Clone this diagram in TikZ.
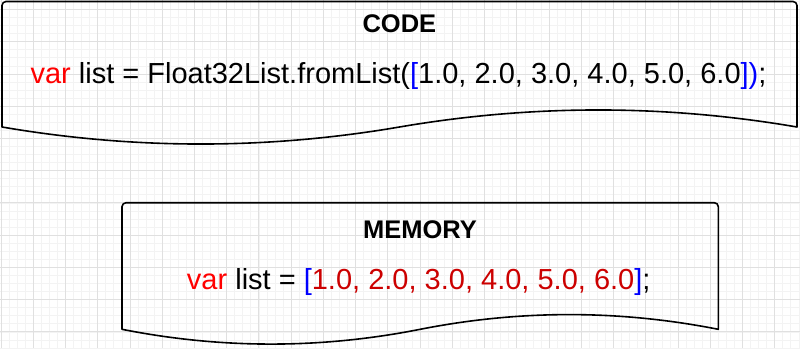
\documentclass[tikz,border=0pt]{standalone}
\usepackage{fontspec}
\setmainfont{Liberation Sans}
\usepackage{xcolor}
\usetikzlibrary{calc}
\definecolor{minorline}{HTML}{F3F3F3}
\definecolor{majorline}{HTML}{E0E0E0}
\definecolor{kwred}{HTML}{FF0000}
\definecolor{numred}{HTML}{CC0000}
\definecolor{brblue}{HTML}{0000FF}
\tikzset{minorgrid/.style={draw=minorline,line width=.8pt},majorgrid/.style={draw=majorline,line width=.9pt},docshape/.style={draw=black,line width=1.6pt,line join=round},title/.style={inner sep=0pt,anchor=base,font=\fontsize{25.5}{30}\selectfont\bfseries},codetext/.style={inner sep=0pt,anchor=base,font=\fontsize{29}{34}\selectfont}}

\begin{document}
\begin{tikzpicture}[x=1pt,y=-1pt]
 \useasboundingbox (0,0) rectangle (800,348);
 \fill[white] (0,0) rectangle (800,348);
 \foreach \i in {0,...,99}{\draw[minorgrid] ({1+8.06*\i},0)--++(0,348);}
 \foreach \i in {-1,...,42}{\draw[minorgrid] (0,{9.5+8.06*\i})--++(800,0);}
 \foreach \i in {0,...,24}{\draw[majorgrid] ({1+32.24*\i},0)--++(0,348);}
 \foreach \i in {0,...,10}{\draw[majorgrid] (0,{9.5+32.24*\i})--++(800,0);}
 % code document
 \draw[docshape] (2,127) -- (2,5.5) .. controls (2,3.3) and (3.8,1.5) .. (6,1.5) -- (793,1.5) .. controls (795.2,1.5) and (797,3.3) .. (797,5.5) -- (797,127) .. controls (664.5,104.3) and (532,104.3) .. (399.5,127) .. controls (267,149.7) and (134.5,149.7) .. (2,127) -- cycle;
 \node[title] (codetitle) at (399.4,32.7) {CODE};
 \node[codetext] (codeline) at (398.5,83.3) {\textcolor{kwred}{var} list = Float32List.fromList(\textcolor{brblue}{[}1.0, 2.0, 3.0, 4.0, 5.0, 6.0\textcolor{brblue}{])};};
 % memory document
 \draw[docshape] (122,329.3) -- (122,206.7) .. controls (122,204.5) and (123.8,202.7) .. (126,202.7) -- (714.3,202.7) .. controls (716.5,202.7) and (718.3,204.5) .. (718.3,206.7) -- (718.3,329.3) .. controls (618.9,309.7) and (519.55,309.7) .. (420.15,329.3) .. controls (320.75,349) and (221.4,349) .. (122,329.3) -- cycle;
 \node[title] (memtitle) at (420,238.3) {MEMORY};
 \node[codetext] (memline) at (418.7,289.3) {\textcolor{kwred}{var} list = \textcolor{brblue}{[}\textcolor{numred}{1.0, 2.0, 3.0, 4.0, 5.0, 6.0}\textcolor{brblue}{]};};
\end{tikzpicture}
\end{document}
